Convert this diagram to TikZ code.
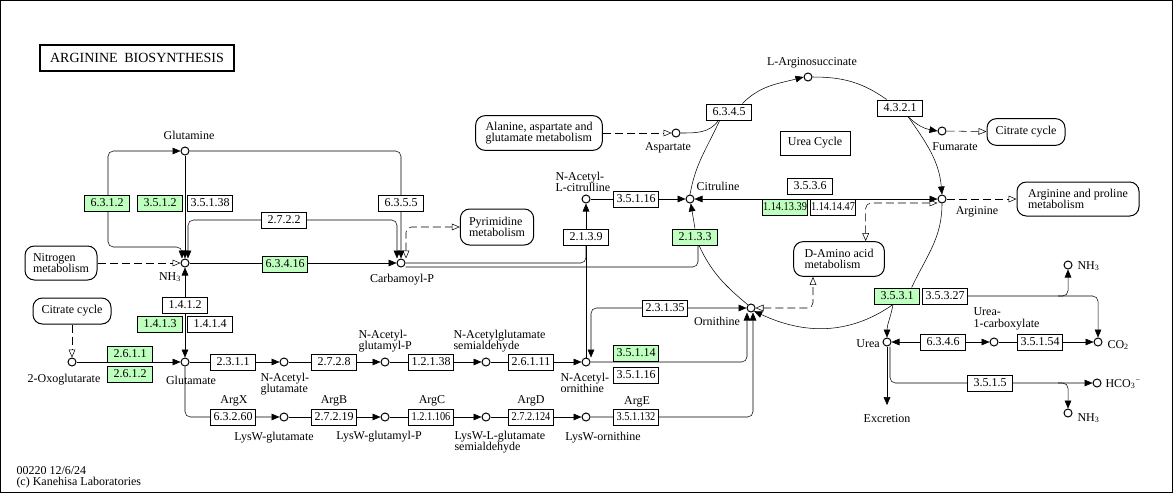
\documentclass[tikz,border=0pt]{standalone}
\usepackage{fontspec}
\usepackage{graphicx}
\setmainfont{Liberation Serif}
\usetikzlibrary{arrows.meta,backgrounds}
\definecolor{kgreen}{HTML}{BFFFBF}
\tikzset{
  cpd/.style={circle,draw,fill=white,inner sep=0pt,minimum size=6pt},
  enz/.style={draw,fill=white,inner sep=0pt,minimum width=33.5pt,minimum height=12pt},
  enzg/.style={enz,fill=kgreen},
  pmap/.style={draw,fill=white,rounded corners=7pt,align=left,inner sep=0pt},
  lbl/.style={inner sep=0pt,align=center},
  lbll/.style={inner sep=0pt,align=left},
  mlink/.style={dash pattern=on 6pt off 3pt},
  hollow/.style={>={Triangle[open,length=6pt,width=5pt]}},
  >={Triangle[length=6pt,width=5pt]}
}
\newcommand{\nw}[1]{\scalebox{0.86}[1]{#1}}
\begin{document}
\begin{tikzpicture}[x=0.75pt,y=-0.75pt,line width=0.75pt,font=\fontsize{9}{8.5}\selectfont]
\useasboundingbox (0,0) rectangle (1173,493);
\draw (0.5,0.5) rectangle (1172.5,492.5);
\node[draw,line width=1.5pt,minimum width=146pt,minimum height=20pt,font=\fontsize{10.5}{11}\selectfont] (title) at (137,58) {ARGININE\hspace{5pt}BIOSYNTHESIS};

% pathway maps
\node[pmap,minimum width=54pt,minimum height=25.5pt] (nitro) at (61,263) {Nitrogen\\metabolism};
\node[pmap,minimum width=58.5pt,minimum height=19.5pt] (citl) at (72,311) {Citrate cycle};
\node[pmap,minimum width=55pt,minimum height=27pt] (pyrim) at (497,227) {Pyrimidine\\metabolism};
\node[pmap,minimum width=95pt,minimum height=26pt] (ala) at (539,133) {Alanine, aspartate and\\glutamate metabolism};
\node[pmap,minimum width=58.5pt,minimum height=20pt] (citr) at (1026,132) {Citrate cycle};
\node[pmap,minimum width=91.5pt,minimum height=25.5pt] (argpro) at (1078,199) {Arginine and proline\\metabolism};
\node[pmap,minimum width=68pt,minimum height=26pt] (damino) at (839,259) {D-Amino acid\\metabolism};
\node[draw,minimum width=52.5pt,minimum height=18pt,inner sep=0pt] (ucyc) at (815,143) {Urea Cycle};

% compounds
\node[cpd] (glutamine) at (185,151) {};
\node[cpd] (nh3) at (185,263) {};
\node[cpd] (carbp) at (401,263) {};
\node[cpd] (glu) at (185,362) {};
\node[cpd] (oxo) at (72,362) {};
\node[cpd] (nacglu) at (284,362) {};
\node[cpd] (nacglup) at (385,362) {};
\node[cpd] (nacglusa) at (486,362) {};
\node[cpd] (nacorn) at (586,362) {};
\node[cpd] (lysglu) at (284,417) {};
\node[cpd] (lysglup) at (385,417) {};
\node[cpd] (lysglusa) at (486,417) {};
\node[cpd] (lysorn) at (586,417) {};
\node[cpd] (naccit) at (586,199) {};
\node[cpd] (cit) at (690,199) {};
\node[cpd] (asp) at (676,133) {};
\node[cpd] (argsuc) at (808,77) {};
\node[cpd] (fum) at (942,131) {};
\node[cpd] (arg) at (942,199) {};
\node[cpd] (orn) at (751,308) {};
\node[cpd] (urea) at (887,342) {};
\node[cpd] (ureac) at (994,342) {};
\node[cpd] (co2) at (1098,342) {};
\node[cpd] (nh3a) at (1068,265) {};
\node[cpd] (hco3) at (1097,383) {};
\node[cpd] (nh3b) at (1068,413) {};

% compound names
\node[lbl] (glutamine-t) at (189,135) {Glutamine};
\node[lbl] (nh3-t) at (170,277) {NH\textsubscript{3}};
\node[lbl] (carbp-t) at (402,280) {Carbamoyl-P};
\node[lbl] (glu-t) at (191,380) {Glutamate};
\node[lbl] (oxo-t) at (64,380) {2-Oxoglutarate};
\node[lbll,anchor=west] (nacglu-t) at (260,384) {N-Acetyl-\\glutamate};
\node[lbll,anchor=west] (nacglup-t) at (358,341) {N-Acetyl-\\glutamyl-P};
\node[lbll,anchor=west] (nacglusa-t) at (453,341) {N-Acetylglutamate\\semialdehyde};
\node[lbll,anchor=west] (nacorn-t) at (560,383) {N-Acetyl-\\ornithine};
\node[lbll,anchor=west] (naccit-t) at (555,182) {N-Acetyl-\\L-citrulline};
\node[lbl] (lysglu-t) at (274,438) {LysW-glutamate};
\node[lbl] (lysglup-t) at (379,437) {LysW-glutamyl-P};
\node[lbll,anchor=west] (lysglusa-t) at (454,442) {LysW-L-glutamate\\semialdehyde};
\node[lbl] (lysorn-t) at (603,438) {LysW-ornithine};
\node[lbl] (asp-t) at (668,148) {Aspartate};
\node[lbl] (cit-t) at (718,186) {Citruline};
\node[lbl] (argsuc-t) at (812,63) {L-Arginosuccinate};
\node[lbl] (fum-t) at (955,147) {Fumarate};
\node[lbl] (arg-t) at (977,212) {Arginine};
\node[lbl] (orn-t) at (717,321) {Ornithine};
\node[lbl] (urea-t) at (868,344) {Urea};
\node[lbll,anchor=west] (ureac-t) at (973,319) {Urea-\\1-carboxylate};
\node[lbl,anchor=west] (co2-t) at (1107,345) {CO\textsubscript{2}};
\node[lbl,anchor=west] (nh3a-t) at (1077,266) {NH\textsubscript{3}};
\node[lbl,anchor=west] (hco3-t) at (1105,384) {HCO\textsubscript{3}\textsuperscript{−}};
\node[lbl,anchor=west] (nh3b-t) at (1077,418) {NH\textsubscript{3}};
\node[lbl] (excr) at (887,419) {Excretion};
\node[lbl] (argx) at (234,401) {ArgX};
\node[lbl] (argb) at (334,401) {ArgB};
\node[lbl] (argc) at (432,401) {ArgC};
\node[lbl] (argd) at (531,401) {ArgD};
\node[lbl] (arge) at (637,402) {ArgE};

% enzymes
\node[enzg] (e6312) at (107,203) {6.3.1.2};
\node[enzg] (e3512) at (160,203) {3.5.1.2};
\node[enz] (e35138) at (210,203) {3.5.1.38};
\node[enz] (e2722) at (284,220) {2.7.2.2};
\node[enz] (e6355) at (401,203) {6.3.5.5};
\node[enzg] (e63416) at (285,264) {6.3.4.16};
\node[enz] (e1412) at (185,305) {1.4.1.2};
\node[enzg] (e1413) at (160,324) {1.4.1.3};
\node[enz] (e1414) at (210,324) {1.4.1.4};
\node[enzg] (e2611) at (130,354) {2.6.1.1};
\node[enzg] (e2612) at (130,374) {2.6.1.2};
\node[enz] (e2311) at (233,362) {2.3.1.1};
\node[enz] (e2728) at (334,362) {2.7.2.8};
\node[enz] (e12138) at (431,362) {1.2.1.38};
\node[enz] (e26111) at (531,362) {2.6.1.11};
\node[enz] (e63260) at (233,417) {6.3.2.60};
\node[enz] (e27219) at (334,417) {2.7.2.19};
\node[enz] (e121106) at (431,417) {\nw{1.2.1.106}};
\node[enz] (e272124) at (531,417) {\nw{2.7.2.124}};
\node[enz] (e351132) at (636,417) {\nw{3.5.1.132}};
\node[enzg] (e35114) at (636,353) {3.5.1.14};
\node[enz] (e35116b) at (636,375) {3.5.1.16};
\node[enz] (e23135) at (665,308) {2.3.1.35};
\node[enz] (e2139) at (586,237) {2.1.3.9};
\node[enzg] (e2133) at (695,237) {2.1.3.3};
\node[enz] (e35116a) at (636,199) {3.5.1.16};
\node[enz] (e6345) at (729,112) {6.3.4.5};
\node[enz] (e4321) at (900,108) {4.3.2.1};
\node[enz] (e3536) at (810,186) {3.5.3.6};
\node[enzg] (e1141339) at (785,207) {\nw{1.14.13.39}};
\node[enz] (e1141447) at (833,207) {\nw{1.14.14.47}};
\node[enzg] (e3531) at (897,296) {3.5.3.1};
\node[enz] (e35327) at (945,296) {3.5.3.27};
\node[enz] (e6346) at (943,342) {6.3.4.6};
\node[enz] (e35154) at (1040,342) {3.5.1.54};
\node[enz] (e3515) at (990,383) {3.5.1.5};

\node[lbll,anchor=north west] (stamp) at (16,466) {00220 12/6/24\\(c) Kanehisa Laboratories};

\begin{pgfonlayer}{background}
\draw[->] (glutamine) -- (nh3);
\draw[<->,rounded corners=4pt] (glutamine.west) -| (108,247) -| ([xshift=-2.25pt]nh3.north);
\draw[<->,rounded corners=4pt] ([xshift=2.25pt]nh3.north) |- (e2722.center) -| ([xshift=-3pt]carbp.north);
\draw[->,rounded corners=4pt] (glutamine.east) -| (carbp.north);
\draw[->] (nh3) -- (carbp);
\draw[mlink,hollow,<->,rounded corners=4pt] ([xshift=3.75pt]carbp.north) |- (pyrim.west);
\draw[mlink,hollow,->] (nitro) -- (nh3);
\draw[mlink,hollow,->] (citl) -- (oxo);
\draw[->] (oxo) -- (glu);
\draw[<->] (glu) -- (nh3);
\draw[->] (glu) -- (nacglu);
\draw[->] (nacglu) -- (nacglup);
\draw[->] (nacglup) -- (nacglusa);
\draw[->] (nacglusa) -- (nacorn);
\draw[->,rounded corners=4pt] (glu.south) |- (lysglu.west);
\draw[->] (lysglu) -- (lysglup);
\draw[->] (lysglup) -- (lysglusa);
\draw[->] (lysglusa) -- (lysorn);
\draw[->,rounded corners=4pt] (lysorn.east) -| ([xshift=1.5pt]orn.south);
\draw[->,rounded corners=4pt] (nacorn.east) -| ([xshift=-3pt]orn.south);
\draw[<->,rounded corners=4pt] (orn.west) -| ([xshift=3.75pt]nacorn.north);
\draw[->] (nacorn) -- (naccit);
\draw[rounded corners=4pt] (carbp.east) -| (e2139.south);
\draw[rounded corners=4pt] ([yshift=-3pt]carbp.east) -| ([xshift=2.25pt]e2133.south);
\draw[->] (e2133.north) -- (cit);
\draw ([xshift=3pt]e2133.south) to[out=-65,in=140] (orn.north west);
\draw[->] (naccit) -- (cit);
\draw[<->] (cit) -- (arg);
\draw[mlink,hollow,->] (ala) -- (asp);
\draw (asp.east) to[out=0,in=-125] ([xshift=-8pt]e6345.south);
\draw (cit.north) to[out=80,in=-115] ([xshift=-7pt]e6345.south);
\draw[->] ([xshift=10pt]e6345.north) to[out=45,in=195] (argsuc.west);
\draw (argsuc.east) to[out=0,in=145] ([xshift=-10pt]e4321.north);
\draw[->] ([xshift=6pt]e4321.south) to[out=-45,in=170] (fum.west);
\draw[->] ([xshift=6pt]e4321.south) to[out=-55,in=95] (arg.north);
\draw[mlink,hollow,->] (fum) -- (citr);
\draw[mlink,hollow,->] (arg) -- (argpro);
\draw[mlink,hollow,<->,rounded corners=4pt] ([xshift=20pt]damino.north) |- ([yshift=-3pt]arg.west);
\draw[mlink,hollow,<->,rounded corners=4pt] (orn.east) -| ([xshift=-19.5pt]damino.south);
\draw (arg.south) to[out=-90,in=65] ([xshift=11pt]e3531.north);
\draw[->] ([xshift=-3pt]e3531.south) to[out=-145,in=-25] (orn.south east);
\draw[->] ([xshift=-3pt]e3531.south) to[out=-100,in=90] (urea.north);
\draw[->,rounded corners=4pt] (e35327.east) -| (co2.north);
\coordinate (brn) at (1058,296);
\draw[->,rounded corners=4pt] (brn) -| (nh3a.south);
\draw[<->] (urea) -- (ureac);
\draw[->] (ureac) -- (co2);
\draw[->,shorten >=7pt] (urea) -- (excr);
\draw[->,rounded corners=4pt] ([xshift=2.25pt]urea.south) |- (hco3.west);
\coordinate (brh) at (1058,383);
\draw[->,rounded corners=4pt] (brh) -| (nh3b.north);
\end{pgfonlayer}
\end{tikzpicture}
\end{document}
